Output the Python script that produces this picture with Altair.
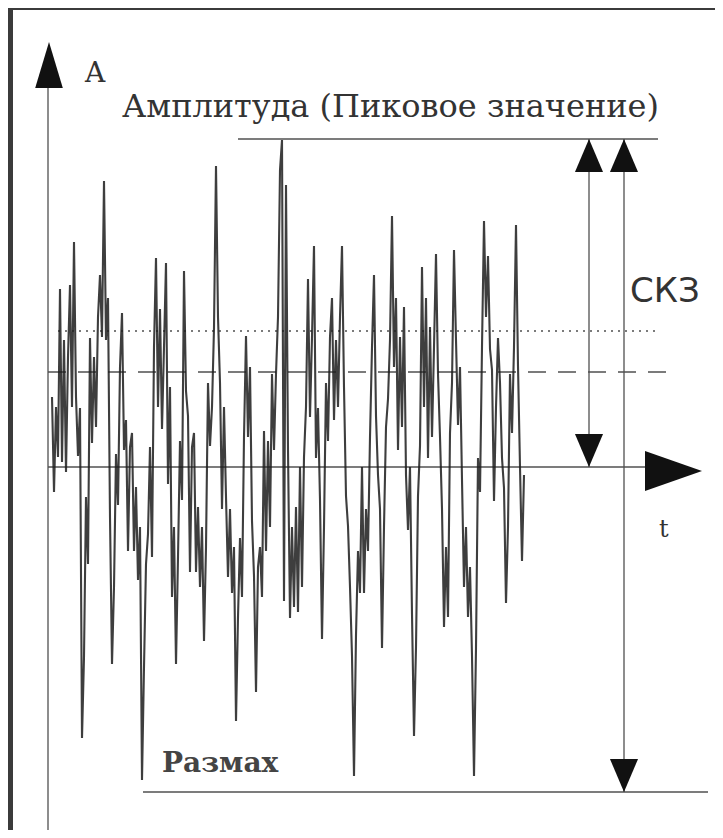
import altair as alt
import pandas as pd

# ---------------- data ----------------
# Vibration signal amplitude (zero = time axis), sampled every 2 time units from t = 4
SIGNAL = [
    70, -25, 60, 10, 178, 5, 127, -5, 110, 182,
    60, 225, 70, 11, 59, -271, -190, -30, -97, 129,
    24, 110, 40, 150, 192, 130, 286, 127, 169, -50,
    -197, -120, 13, -38, 100, 154, 17, 47, -84, 20,
    34, -84, -20, -113, -60, -313, -200, -97, -67, 20,
    -90, 120, 209, 60, 158, 38, 120, 204, -17, 80,
    -130, -60, -197, -90, 26, -33, 196, 76, 51, -105,
    20, 34, -105, -40, -120, -60, -174, -80, 84, 21,
    60, 139, 301, 150, 84, -42, 60, -30, -110, -42,
    -126, -80, -254, -150, -71, -130, 30, 131, 30, 100,
    -54, -109, -225, -100, -80, -130, 36, -84, 26, -60,
    93, 17, 93, 150, 297, 327, -134, 282, 17, -151,
    -60, -140, -40, -145, 0, -120, 10, 60, 188, 50,
    130, 221, 9, 59, -33, -172, -60, 84, 26, 130,
    169, 47, 127, 60, 150, 221, 80, -29, -59, -120,
    -189, -309, -168, -84, -126, 0, -126, -42, -84, 30,
    120, 192, 51, -8, -42, -181, -60, 40, 68, 127,
    251, 100, 169, 17, 130, 40, 160, -8, -63, 0,
    -147, -269, -180, -29, 21, 200, 60, 169, 9, 140,
    30, 120, 213, 93, 30, -42, -160, -80, -150, 34,
    84, 217, 127, 42, 100, -13, -120, -60, -150, -100,
    -189, -309, -181, 9, -25, 120, 246, 150, 211, 118,
    97, -34, 60, 129, 84, 9, -21, -136, -60, 93,
    34, 120, 242, 101, 0, -94, -8,
]
T_START, T_STEP = 4, 2

# characteristic levels
PEAK = 328      # Амплитуда (пиковое значение)
RMS = 136       # dotted level
MEAN = 95       # dashed level
ZERO = 0
TROUGH = -325   # lower bound of Размах

T_DOMAIN = [-35, 667]
A_DOMAIN = [-363, 457]

# ---------------- tables ----------------
sig = pd.DataFrame({
    "t": [T_START + i * T_STEP for i in range(len(SIGNAL))],
    "a": SIGNAL,
})

solid_h = pd.DataFrame({
    "t": [0, 190, 95],
    "t2": [597, 610, 660],
    "a": [ZERO, PEAK, TROUGH],
})
dotted_h = pd.DataFrame({"t": [10], "t2": [612], "a": [RMS]})
dashed_h = pd.DataFrame({"t": [0], "t2": [625], "a": [MEAN]})

vert = pd.DataFrame({
    "t": [0, 541, 576],
    "a": [A_DOMAIN[0], ZERO, TROUGH],
    "a2": [379, PEAK, PEAK],
})

up_heads = pd.DataFrame({"t": [541, 576], "a": [PEAK, PEAK]})
down_heads = pd.DataFrame({"t": [541, 576], "a": [ZERO, TROUGH]})
yaxis_head = pd.DataFrame({"t": [1], "a": [425]})
xaxis_head = pd.DataFrame({"t": [654], "a": [-4]})

labels_serif = pd.DataFrame({
    "t": [37, 74],
    "a": [385, 350],
    "txt": ["A", "Амплитуда (Пиковое значение)"],
    "size": [28, 32],
})
label_ckz = pd.DataFrame({"t": [582], "a": [165], "txt": ["СКЗ"]})
label_t = pd.DataFrame({"t": [611], "a": [-70], "txt": ["t"]})
label_range = pd.DataFrame({"t": [114], "a": [-305], "txt": ["Размах"]})

# ---------------- chart ----------------
xs = alt.Scale(domain=T_DOMAIN, nice=False, zero=False)
ys = alt.Scale(domain=A_DOMAIN, nice=False, zero=False)
X = alt.X("t:Q", scale=xs, axis=None)
Y = alt.Y("a:Q", scale=ys, axis=None)

INK = "#1c1c1c"
LINE = "#505050"

signal = alt.Chart(sig).mark_line(color=INK, strokeWidth=2.1, opacity=0.85).encode(x=X, y=Y)

h_solid = alt.Chart(solid_h).mark_rule(color=LINE, strokeWidth=1.6).encode(x=X, x2="t2:Q", y=Y)
h_dotted = alt.Chart(dotted_h).mark_rule(color=LINE, strokeWidth=1.3, strokeDash=[2, 5]).encode(x=X, x2="t2:Q", y=Y)
h_dashed = alt.Chart(dashed_h).mark_rule(color=LINE, strokeWidth=1.5, strokeDash=[18, 12]).encode(x=X, x2="t2:Q", y=Y)
v_lines = alt.Chart(vert).mark_rule(color=LINE, strokeWidth=1.3).encode(x=X, y=Y, y2="a2:Q")

UP = "M0,0L-0.85,2L0.85,2Z"
DOWN = "M0,0L-0.85,-2L0.85,-2Z"
YUP = "M0,0L-0.6,2L0.6,2Z"
XRIGHT = "M0,0L-2,-0.7L-2,0.7Z"

def heads(df, path, size):
    return alt.Chart(df).mark_point(filled=True, opacity=1, color="#111111", strokeWidth=0).encode(
        x=X, y=Y, shape=alt.value(path), size=alt.value(size)
    )

h_up = heads(up_heads, UP, 1089)
h_down = heads(down_heads, DOWN, 1089)
h_y = heads(yaxis_head, YUP, 2116)
h_x = heads(xaxis_head, XRIGHT, 3249)

txt_serif = alt.Chart(labels_serif).mark_text(
    align="left", baseline="alphabetic", font="DejaVu Serif", color="#333333"
).encode(x=X, y=Y, text="txt:N", size=alt.Size("size:Q", scale=None, legend=None))

txt_ckz = alt.Chart(label_ckz).mark_text(
    align="left", baseline="alphabetic", font="DejaVu Sans", fontSize=34, color="#333333"
).encode(x=X, y=Y, text="txt:N")

txt_t = alt.Chart(label_t).mark_text(
    align="left", baseline="alphabetic", font="DejaVu Serif", fontSize=24, color="#333333"
).encode(x=X, y=Y, text="txt:N")

txt_range = alt.Chart(label_range).mark_text(
    align="left", baseline="alphabetic", font="DejaVu Serif", fontSize=28, fontWeight="bold", color="#444444"
).encode(x=X, y=Y, text="txt:N")

chart = alt.layer(
    h_dotted, h_dashed, h_solid, v_lines, signal,
    h_up, h_down, h_y, h_x,
    txt_serif, txt_ckz, txt_t, txt_range,
).properties(
    width=702,
    height=820,
    background="#3b3b3b",
    padding={"left": 5, "top": 2, "right": 0, "bottom": 0},
    autosize=alt.AutoSizeParams(type="none"),
).configure_view(fill="white", strokeWidth=0)

chart.save("out.html", embed_options={"renderer": "svg", "actions": False})
